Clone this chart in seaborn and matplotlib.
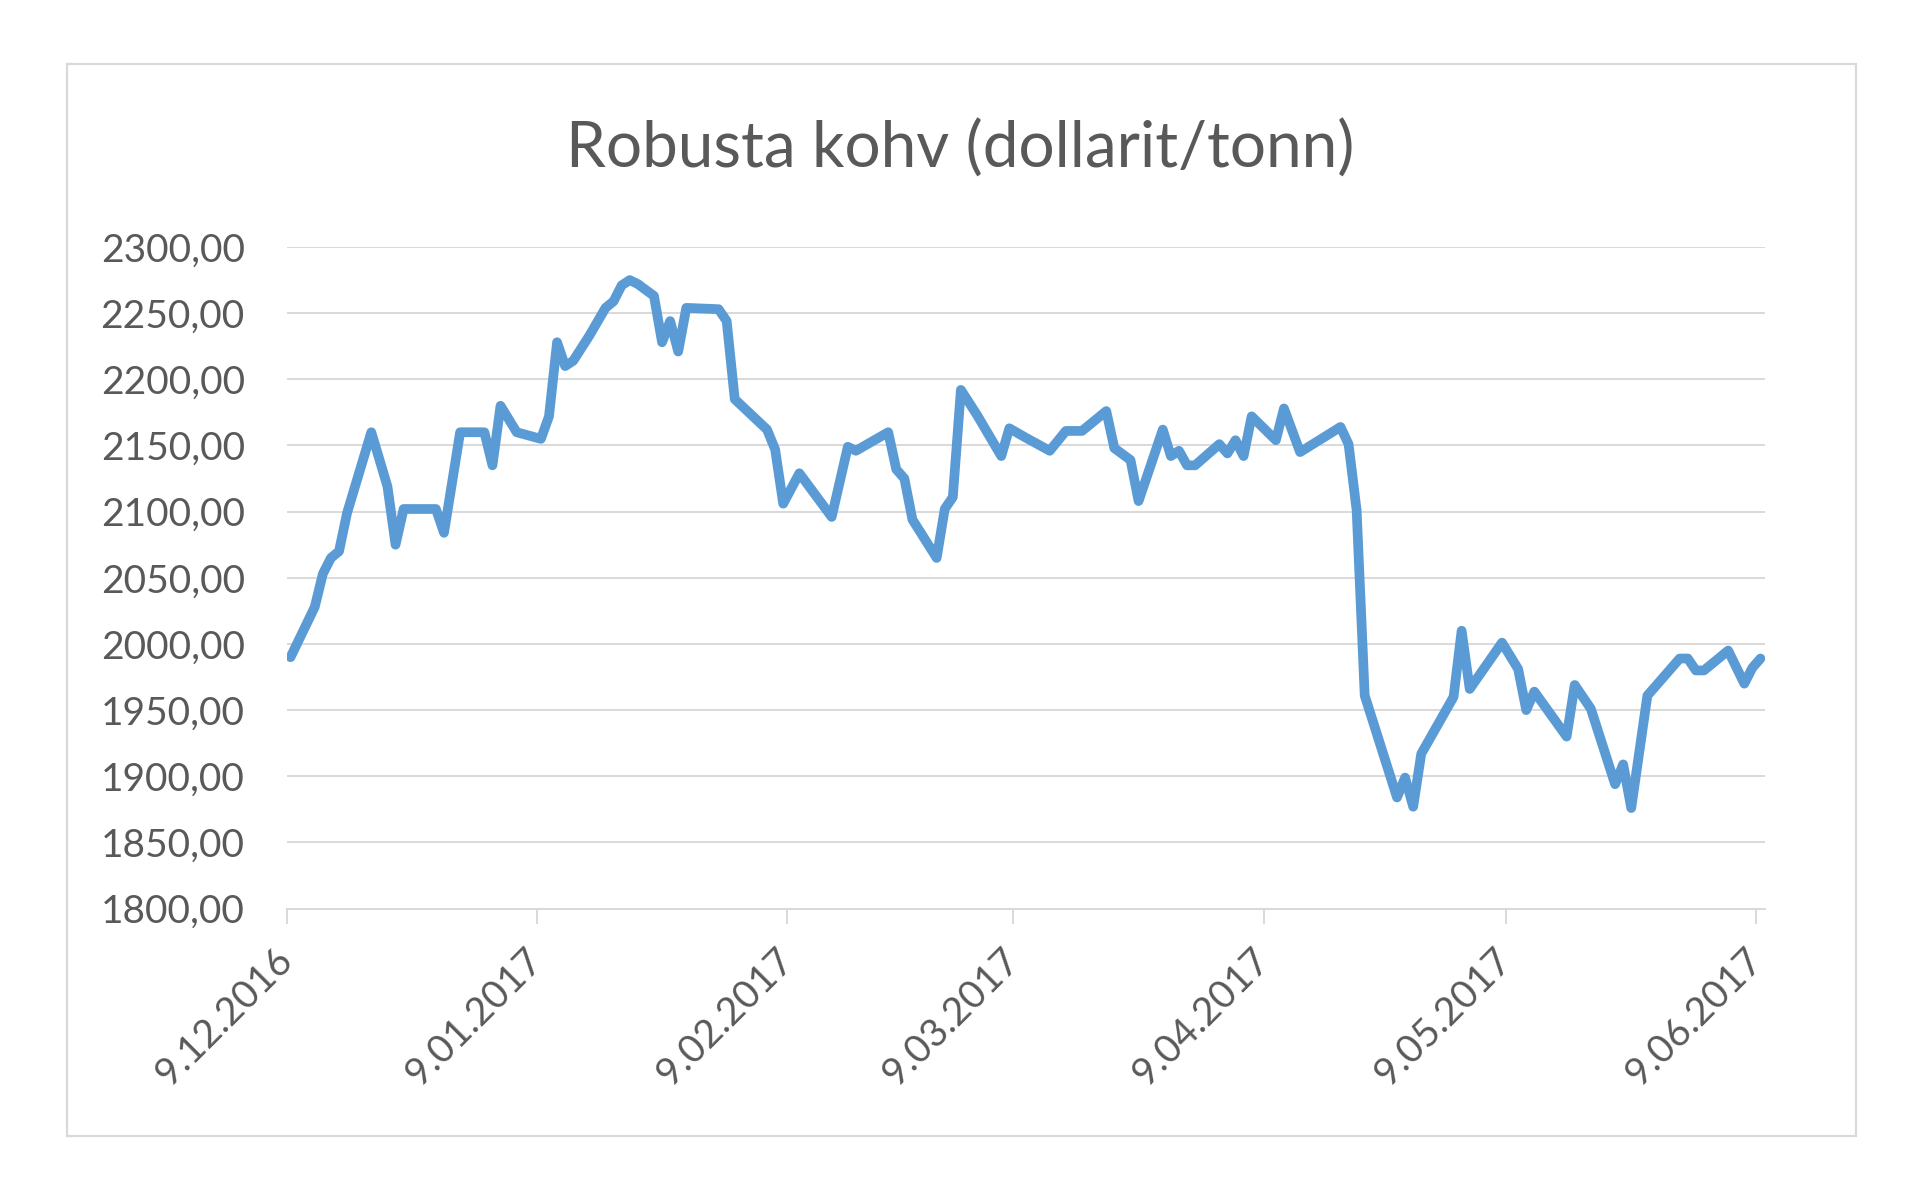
import matplotlib
matplotlib.use("Agg")
import matplotlib.pyplot as plt
from matplotlib.patches import Rectangle
from matplotlib.ticker import FuncFormatter
import seaborn as sns
import pandas as pd

# ---- data ----
start_date = "2016-12-09"
day_offsets = [0, 3, 4, 5, 6, 7, 10, 12, 13, 14, 18, 19, 21, 24, 25, 26, 28,
               31, 32, 33, 34, 35, 37, 39, 40, 41, 42, 43, 45, 46, 47, 48, 49,
               53, 54, 55, 59, 60, 61, 63, 67, 69, 70, 74, 75, 76, 77, 80, 81,
               82, 83, 85, 88, 89, 91, 94, 96, 98, 101, 102, 104, 105, 108, 109,
               110, 111, 112, 115, 116, 117, 118, 119, 122, 123, 125, 130, 131,
               132, 133, 137, 138, 139, 140, 144, 145, 146, 150, 152, 153, 154,
               158, 159, 161, 164, 165, 166, 168, 172, 173, 174, 175, 178, 180,
               181, 182]
prices = [1990, 2028, 2053, 2065, 2070, 2099, 2160, 2119, 2075, 2102, 2102, 2084,
          2160, 2160, 2135, 2180, 2160,
          2155, 2172, 2228, 2210, 2214, 2233, 2254, 2259, 2271, 2275, 2272, 2263,
          2228, 2244, 2221, 2254,
          2253, 2244, 2185, 2162, 2147, 2106, 2129, 2096, 2149, 2146, 2160, 2132,
          2125, 2094, 2065, 2102,
          2111, 2192, 2173, 2142, 2163, 2156, 2146, 2161, 2161, 2176, 2148, 2139,
          2108, 2162, 2142,
          2146, 2135, 2135, 2151, 2144, 2154, 2142, 2172, 2154, 2178, 2145, 2164,
          2151,
          2101, 1961, 1884, 1899, 1877, 1917, 1960, 2010, 1966, 2001, 1981, 1950,
          1964,
          1930, 1969, 1951, 1894, 1909, 1876, 1961, 1989, 1989, 1980, 1980, 1995,
          1970,
          1982, 1989]
tick_dates = ["2016-12-09", "2017-01-09", "2017-02-09", "2017-03-09",
              "2017-04-09", "2017-05-09", "2017-06-09"]
tick_labels = ["9.12.2016", "9.01.2017", "9.02.2017", "9.03.2017",
               "9.04.2017", "9.05.2017", "9.06.2017"]
y_ticks = [1800, 1850, 1900, 1950, 2000, 2050, 2100, 2150, 2200, 2250, 2300]
title = "Robusta kohv (dollarit/tonn)"

# Excel date axis: each date occupies a one-day slot, point at slot centre
base = pd.Timestamp(start_date)
dates = base + pd.to_timedelta(day_offsets, unit="D") + pd.Timedelta(hours=12)
df = pd.DataFrame({"date": dates, "price": prices})

sns.set_theme(style="white")
plt.rcParams["font.family"] = ["Lato", "DejaVu Sans"]

TEXT = "#595959"
GRID = "#d9d9d9"

fig = plt.figure(figsize=(19.2, 11.78), dpi=100)
ax = fig.add_axes([286.5 / 1920, 1 - 908.6 / 1178,
                   (1764.5 - 286.5) / 1920, (908.6 - 247) / 1178])

sns.lineplot(data=df, x="date", y="price", ax=ax, color="#5B9BD5",
             linewidth=7, solid_joinstyle="round", solid_capstyle="round")

ax.set_xlim(base, base + pd.Timedelta(days=183))
ax.set_ylim(y_ticks[0], y_ticks[-1])
ax.set_yticks(y_ticks)
ax.yaxis.set_major_formatter(FuncFormatter(lambda v, p: f"{v:.2f}".replace(".", ",")))
ax.set_xticks(pd.to_datetime(tick_dates))
ax.set_xticklabels(tick_labels, rotation=45, ha="right", va="center",
                   rotation_mode="anchor")

ax.set_xlabel("")
ax.set_ylabel("")
ax.yaxis.grid(True, color=GRID, linewidth=1.4)
ax.xaxis.grid(False)
ax.set_axisbelow(True)
for s in ["top", "right", "left"]:
    ax.spines[s].set_visible(False)
ax.spines["bottom"].set_color(GRID)
ax.spines["bottom"].set_linewidth(1.4)

ax.tick_params(axis="y", length=0, pad=30, labelsize=28, labelcolor=TEXT)
ax.tick_params(axis="x", length=11, width=1.4, color=GRID, pad=22,
               labelsize=28, labelcolor=TEXT, bottom=True)

fig.text(0.5, 1 - 149 / 1178, title, ha="center", va="center",
         fontsize=46, color=TEXT)

fig.add_artist(Rectangle((67 / 1920, 1 - 1136 / 1178),
                         (1856 - 67) / 1920, (1136 - 64) / 1178,
                         transform=fig.transFigure, fill=False,
                         edgecolor=GRID, linewidth=1.6))

fig.savefig("out.png", dpi=100, facecolor="white")
